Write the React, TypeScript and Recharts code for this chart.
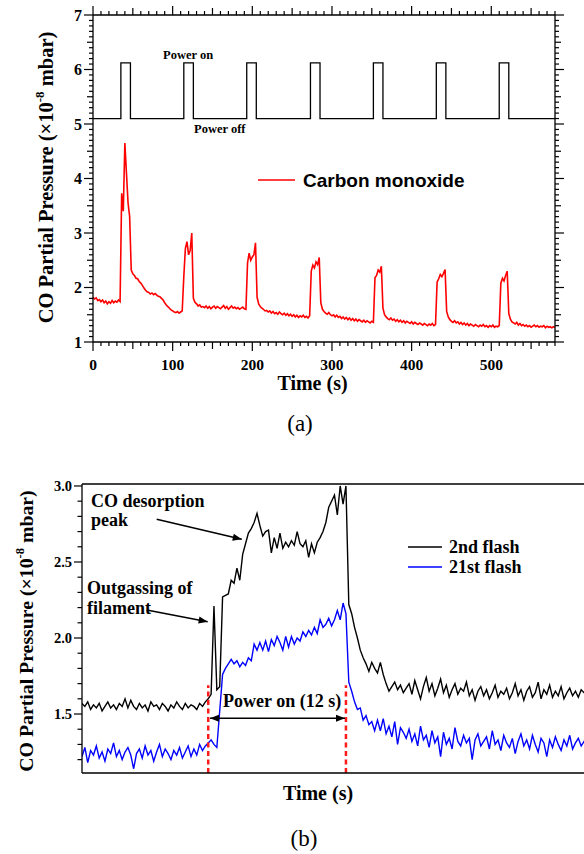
import { LineChart, Line, XAxis, YAxis, ReferenceLine } from 'recharts';

const SERIF = '"Liberation Serif", "Times New Roman", serif';
const SANS = '"Liberation Sans", Arial, sans-serif';

// ---- panel (a): full run, one sample every 2 s ----
const coStep = 2;
const coPressure = [
  1.82, 1.79, 1.81, 1.76, 1.78, 1.74, 1.77, 1.72, 1.75, 1.70,
  1.74, 1.71, 1.76, 1.72, 1.75, 1.73, 1.77, 1.74, 3.73, 3.40,
  4.65, 4.10, 3.55, 3.30, 2.32, 2.25, 2.22, 2.17, 2.16, 2.11,
  2.08, 2.04, 1.99, 1.95, 1.92, 1.91, 1.88, 1.90, 1.87, 1.89,
  1.86, 1.84, 1.83, 1.80, 1.77, 1.72, 1.68, 1.65, 1.62, 1.59,
  1.57, 1.55, 1.54, 1.56, 1.53, 1.55, 1.57, 2.20, 2.72, 2.84,
  2.60, 2.68, 3.00, 1.80, 1.73, 1.70, 1.66, 1.68, 1.64, 1.65,
  1.63, 1.66, 1.62, 1.65, 1.61, 1.64, 1.66, 1.62, 1.65, 1.63,
  1.61, 1.64, 1.67, 1.62, 1.65, 1.60, 1.63, 1.66, 1.62, 1.64,
  1.61, 1.63, 1.60, 1.62, 1.64, 1.61, 1.60, 2.45, 2.63, 2.50,
  2.56, 2.60, 2.82, 1.82, 1.70, 1.65, 1.62, 1.60, 1.57, 1.58,
  1.55, 1.57, 1.53, 1.56, 1.52, 1.54, 1.51, 1.55, 1.52, 1.50,
  1.53, 1.49, 1.52, 1.48, 1.51, 1.47, 1.50, 1.46, 1.49, 1.45,
  1.48, 1.46, 1.49, 1.45, 1.47, 1.44, 1.48, 2.30, 2.41, 2.36,
  2.47, 2.42, 2.55, 1.72, 1.60, 1.56, 1.53, 1.51, 1.54, 1.50,
  1.48, 1.50, 1.46, 1.49, 1.45, 1.47, 1.43, 1.46, 1.42, 1.45,
  1.41, 1.44, 1.40, 1.43, 1.39, 1.42, 1.38, 1.41, 1.39, 1.37,
  1.40, 1.36, 1.39, 1.37, 1.35, 1.38, 1.36, 2.18, 2.22, 2.32,
  2.28, 2.39, 1.62, 1.50, 1.46, 1.43, 1.41, 1.44, 1.40, 1.42,
  1.38, 1.41, 1.37, 1.40, 1.36, 1.39, 1.35, 1.38, 1.36, 1.34,
  1.37, 1.33, 1.36, 1.34, 1.32, 1.35, 1.33, 1.31, 1.34, 1.32,
  1.30, 1.33, 1.31, 1.34, 1.30, 1.32, 2.10, 2.16, 2.24, 2.20,
  2.26, 2.33, 1.56, 1.46, 1.41, 1.38, 1.36, 1.39, 1.35, 1.37,
  1.33, 1.36, 1.32, 1.35, 1.31, 1.34, 1.30, 1.33, 1.31, 1.29,
  1.32, 1.30, 1.28, 1.31, 1.29, 1.32, 1.28, 1.30, 1.27, 1.30,
  1.28, 1.31, 1.27, 1.29, 1.28, 1.30, 2.08, 2.17, 2.12, 2.22,
  2.30, 1.52, 1.42, 1.37, 1.35, 1.33, 1.36, 1.31, 1.34, 1.30,
  1.32, 1.29, 1.31, 1.28, 1.30, 1.27, 1.29, 1.31, 1.28, 1.30,
  1.27, 1.29, 1.28, 1.30, 1.26, 1.29, 1.27, 1.28, 1.26, 1.28,
  1.27,
];

// filament power (arbitrary level on the same axis)
const powerTime = [0, 35, 47, 114, 126, 193, 205, 273, 285, 352, 364, 431, 443, 510, 522, 580];
const powerLevel = [5.1, 6.12, 5.1, 6.12, 5.1, 6.12, 5.1, 6.12, 5.1, 6.12, 5.1, 6.12, 5.1, 6.12, 5.1, 5.1];

const timeTicksA = Array.from({ length: 59 }, (_, i) => i * 10);
const pressureTicksA = Array.from({ length: 61 }, (_, i) => Math.round(10 + i) / 10);

// ---- panel (b): single flashes, one sample every 0.25 s ----
const flashStep = 0.25;
const flash2nd = [
  1.57, 1.55, 1.58, 1.53, 1.56, 1.54, 1.57, 1.52, 1.55, 1.58,
  1.54, 1.56, 1.53, 1.57, 1.55, 1.60, 1.54, 1.59, 1.55, 1.53,
  1.57, 1.54, 1.56, 1.52, 1.58, 1.55, 1.56, 1.53, 1.57, 1.55,
  1.52, 1.56, 1.54, 1.58, 1.55, 1.53, 1.57, 1.54, 1.56, 1.55,
  1.53, 1.57, 1.55, 1.58,
  1.60, 1.63, 2.21, 1.66, 1.68, 2.27, 2.28, 2.29, 2.38, 2.36,
  2.46, 2.38, 2.55, 2.62, 2.69, 2.72, 2.76, 2.82, 2.74, 2.67,
  2.70, 2.71, 2.56, 2.66, 2.59, 2.69, 2.59, 2.63, 2.60, 2.64,
  2.61, 2.70, 2.62, 2.60, 2.64, 2.53, 2.62, 2.56, 2.63, 2.66,
  2.70, 2.76, 2.86, 2.90, 2.94, 2.81, 3.00, 2.88, 3.00, 2.22,
  2.16, 2.07, 2.00, 1.92, 1.87, 1.83, 1.78, 1.84, 1.80, 1.77,
  1.84, 1.76, 1.70, 1.65, 1.68, 1.71, 1.66, 1.69, 1.64, 1.67,
  1.70, 1.63, 1.72, 1.66, 1.60, 1.68, 1.74, 1.65, 1.70, 1.62,
  1.67, 1.73, 1.64, 1.69, 1.61, 1.66, 1.70, 1.63, 1.67, 1.65,
  1.71, 1.62, 1.66, 1.59, 1.65, 1.68, 1.62, 1.66, 1.60, 1.64,
  1.69, 1.61, 1.65, 1.63, 1.67, 1.60, 1.64, 1.70, 1.62, 1.66,
  1.59, 1.65, 1.68, 1.61, 1.64, 1.71, 1.60, 1.66, 1.63, 1.69,
  1.61, 1.65, 1.62, 1.68, 1.60, 1.64, 1.67, 1.62, 1.65, 1.61,
  1.66, 1.64, 1.63, 1.66,
];
const flash21st = [
  1.22, 1.28, 1.18, 1.26, 1.23, 1.29, 1.21, 1.25, 1.19, 1.27,
  1.24, 1.31, 1.22, 1.26, 1.20, 1.25, 1.28, 1.23, 1.14, 1.24,
  1.27, 1.21, 1.29, 1.23, 1.26, 1.19, 1.25, 1.30, 1.22, 1.27,
  1.24, 1.20, 1.26, 1.23, 1.28, 1.21, 1.25, 1.29, 1.22, 1.27,
  1.23, 1.30, 1.26, 1.29,
  1.31, 1.33, 1.30, 1.28, 1.52, 1.76, 1.80, 1.83, 1.86, 1.83,
  1.85, 1.81, 1.84, 1.82, 1.87, 1.85, 1.96, 1.92, 1.97, 1.92,
  1.98, 1.91, 1.99, 1.95, 2.01, 1.97, 1.92, 2.01, 1.94, 2.01,
  1.96, 2.00, 1.98, 2.04, 2.01, 2.05, 2.02, 2.07, 2.03, 2.12,
  2.07, 2.09, 2.13, 2.08, 2.12, 2.18, 2.12, 2.23, 2.16, 1.71,
  1.65, 1.58, 1.53, 1.54, 1.46, 1.49, 1.43, 1.45, 1.39, 1.46,
  1.39, 1.47, 1.37, 1.42, 1.35, 1.45, 1.30, 1.41, 1.38, 1.34,
  1.40, 1.32, 1.37, 1.29, 1.42, 1.33, 1.36, 1.28, 1.39, 1.31,
  1.35, 1.22, 1.38, 1.30, 1.34, 1.27, 1.41, 1.32, 1.29, 1.36,
  1.31, 1.34, 1.20, 1.33, 1.37, 1.29, 1.32, 1.35, 1.27, 1.39,
  1.30, 1.33, 1.26, 1.36, 1.31, 1.28, 1.34, 1.24, 1.32, 1.37,
  1.29, 1.33, 1.27, 1.36, 1.30, 1.25, 1.34, 1.31, 1.22, 1.33,
  1.28, 1.35, 1.30, 1.26, 1.33, 1.29, 1.36, 1.27, 1.31, 1.34,
  1.29, 1.32, 1.27, 1.31,
];
const pressureTicksB = Array.from({ length: 19 }, (_, i) => Math.round(12 + i) / 10);
const powerOn = [11, 23];
const powerMarkTop = 1.69;
const desorptionArrow = [{ x: 6.51, y: 2.781 }, { x: 13.92, y: 2.649 }];
const outgassingArrow = [{ x: 5.64, y: 2.184 }, { x: 10.95, y: 2.107 }];
const powerOnArrow = [{ x: 11.15, y: 1.472 }, { x: 22.92, y: 1.472 }];

const coData = coPressure.map((v, i) => ({ t: i * coStep, co: v }));
const powerData = powerTime.map((t, i) => ({ t, power: powerLevel[i] }));
const flashData = flash2nd.map((v, i) => ({ t: i * flashStep, second: v, twentyFirst: flash21st[i] }));

const tickText = { fontFamily: SERIF, fontWeight: 'bold' as const, fill: '#000' };

const BottomTickA = ({ x, y, payload }: any) => {
  const v = payload.value;
  const len = v % 100 === 0 ? 9 : v % 50 === 0 ? 7 : 4;
  return (
    <g>
      <line x1={x} x2={x} y1={y} y2={y + len} stroke="#000" strokeWidth={1.2} />
      {v % 100 === 0 && (
        <text x={x} y={y + 27.5} textAnchor="middle" fontSize={15.5} {...tickText}>{v}</text>
      )}
    </g>
  );
};

const TopTickA = ({ x, y, payload }: any) => {
  const v = payload.value;
  const len = v % 100 === 0 ? 9 : v % 50 === 0 ? 7 : 4;
  return <line x1={x} x2={x} y1={y} y2={y - len} stroke="#000" strokeWidth={1.2} />;
};

const LeftTickA = ({ x, y, payload }: any) => {
  const k = Math.round(payload.value * 10);
  const len = k % 10 === 0 ? 9 : k % 5 === 0 ? 6 : 4;
  return (
    <g>
      <line x1={x - len} x2={x} y1={y} y2={y} stroke="#000" strokeWidth={1.2} />
      {k % 10 === 0 && (
        <text x={x - 11} y={y + 5.5} textAnchor="end" fontSize={16} {...tickText}>{k / 10}</text>
      )}
    </g>
  );
};

const RightTickA = ({ x, y, payload }: any) => {
  const k = Math.round(payload.value * 10);
  const len = k % 10 === 0 ? 9 : k % 5 === 0 ? 6 : 4;
  return <line x1={x} x2={x + len} y1={y} y2={y} stroke="#000" strokeWidth={1.2} />;
};

const LeftTickB = ({ x, y, payload }: any) => {
  const k = Math.round(payload.value * 10);
  const major = k % 5 === 0;
  return (
    <g>
      <line x1={x - (major ? 8 : 4.5)} x2={x} y1={y} y2={y} stroke="#000" strokeWidth={1.2} />
      {major && (
        <text x={x - 10} y={y + 5} textAnchor="end" fontSize={14.5} {...tickText}>{(k / 10).toFixed(1)}</text>
      )}
    </g>
  );
};

const head = (x: number, y: number, a: number) => {
  const L = 9, W = 3.5;
  const bx = x - L * Math.cos(a), by = y - L * Math.sin(a);
  return `${x},${y} ${bx + W * Math.sin(a)},${by - W * Math.cos(a)} ${bx - W * Math.sin(a)},${by + W * Math.cos(a)}`;
};

const arrowShape = (both: boolean) => (p: any) => {
  const { x1, y1, x2, y2 } = p;
  const a = Math.atan2(y2 - y1, x2 - x1);
  return (
    <g>
      <line x1={x1} y1={y1} x2={x2} y2={y2} stroke="#000" strokeWidth={1.6} />
      <polygon points={head(x2, y2, a)} fill="#000" />
      {both && <polygon points={head(x1, y1, a + Math.PI)} fill="#000" />}
    </g>
  );
};

const axisStroke = { stroke: '#000', strokeWidth: 1.3 };

// axes get a 1px size (a 0-sized axis is not drawn); margins are trimmed by the same amount
function PanelA() {
  return (
    <LineChart width={584} height={400} data={coData} margin={{ top: 14, right: 28, left: 92, bottom: 57 }}>
      <XAxis dataKey="t" type="number" domain={[0, 580]} ticks={timeTicksA} interval={0} height={1}
        tickSize={0} tickMargin={0} tickLine={false} axisLine={axisStroke} tick={BottomTickA} allowDataOverflow />
      <XAxis xAxisId="top" orientation="top" dataKey="t" type="number" domain={[0, 580]} ticks={timeTicksA}
        interval={0} height={1} tickSize={0} tickMargin={0} tickLine={false} axisLine={axisStroke} tick={TopTickA} allowDataOverflow />
      <YAxis type="number" domain={[1, 7]} ticks={pressureTicksA} interval={0} width={1}
        tickSize={0} tickMargin={0} tickLine={false} axisLine={axisStroke} tick={LeftTickA} allowDataOverflow />
      <YAxis yAxisId="right" orientation="right" type="number" domain={[1, 7]} ticks={pressureTicksA} interval={0} width={1}
        tickSize={0} tickMargin={0} tickLine={false} axisLine={axisStroke} tick={RightTickA} allowDataOverflow />
      <Line data={powerData} dataKey="power" type="stepAfter" stroke="#000" strokeWidth={1.3} dot={false} isAnimationActive={false} />
      <Line dataKey="co" type="linear" stroke="#ff0000" strokeWidth={1.6} dot={false} isAnimationActive={false} />
    </LineChart>
  );
}

function PanelB() {
  return (
    <LineChart width={600} height={400} data={flashData} margin={{ top: 43, right: 10.2, left: 81, bottom: 66 }}>
      <XAxis dataKey="t" type="number" domain={[0, 44.25]} height={1} tick={false} tickLine={false}
        axisLine={axisStroke} allowDataOverflow />
      <XAxis xAxisId="top" orientation="top" dataKey="t" type="number" domain={[0, 44.25]} height={1}
        tick={false} tickLine={false} axisLine={axisStroke} allowDataOverflow />
      <YAxis type="number" domain={[1.112, 3.013]} ticks={pressureTicksB} interval={0} width={1}
        tickSize={0} tickMargin={0} tickLine={false} axisLine={axisStroke} tick={LeftTickB} allowDataOverflow />
      <Line dataKey="second" type="linear" stroke="#000" strokeWidth={1.4} dot={false} isAnimationActive={false} />
      <Line dataKey="twentyFirst" type="linear" stroke="#0000ff" strokeWidth={1.4} dot={false} isAnimationActive={false} />
      {powerOn.map((t) => (
        <ReferenceLine key={t} segment={[{ x: t, y: 1.112 }, { x: t, y: powerMarkTop }]} stroke="#ff1a1a"
          strokeWidth={2.5} strokeDasharray="5 3.5" ifOverflow="visible" />
      ))}
      <ReferenceLine segment={desorptionArrow} ifOverflow="visible" shape={arrowShape(false)} />
      <ReferenceLine segment={outgassingArrow} ifOverflow="visible" shape={arrowShape(false)} />
      <ReferenceLine segment={powerOnArrow} ifOverflow="visible" shape={arrowShape(true)} />
    </LineChart>
  );
}

export default function App() {
  const bold = { fontFamily: SERIF, fontWeight: 'bold' as const, fill: '#000' };
  return (
    <div style={{ position: 'fixed', left: 0, top: 0, width: 584, height: 854, overflow: 'hidden', background: '#fff' }}>
      <div style={{ position: 'absolute', left: 0, top: 0 }}>
        <PanelA />
      </div>
      <div style={{ position: 'absolute', left: 0, top: 440 }}>
        <PanelB />
      </div>
      <svg width={584} height={854} style={{ position: 'absolute', left: 0, top: 0, pointerEvents: 'none' }}>
        {/* panel (a) */}
        <text transform="translate(53,177.5) rotate(-90)" textAnchor="middle" fontSize={20.5} {...bold}>
          CO Partial Pressure (×10<tspan dy={-9} fontSize={13}>-8</tspan><tspan dy={9}> mbar)</tspan>
        </text>
        <text x={312.5} y={390} textAnchor="middle" fontSize={20} {...bold}>Time (s)</text>
        <text x={163} y={59} fontSize={12.5} {...bold}>Power on</text>
        <text x={194} y={133} fontSize={12.5} {...bold}>Power off</text>
        <line x1={258} x2={295} y1={180} y2={180} stroke="#ff0000" strokeWidth={1.4} />
        <text x={303} y={186.5} fontSize={19} fontFamily={SANS} fontWeight="bold" fill="#000">Carbon monoxide</text>
        <text x={300} y={431} textAnchor="middle" fontSize={23} fontFamily={SERIF} fill="#000">(a)</text>

        {/* panel (b) */}
        <text transform="translate(33,631) rotate(-90)" textAnchor="middle" fontSize={19.8} {...bold}>
          CO Partial Pressure (×10<tspan dy={-9} fontSize={12.5}>-8</tspan><tspan dy={9}> mbar)</tspan>
        </text>
        <text x={318} y={800} textAnchor="middle" fontSize={20} {...bold}>Time (s)</text>
        <text x={91} y={507} fontSize={18} {...bold}>CO desorption</text>
        <text x={91} y={526} fontSize={18} {...bold}>peak</text>
        <text x={87} y={593.5} fontSize={18} {...bold}>Outgassing of</text>
        <text x={87} y={614} fontSize={18} {...bold}>filament</text>
        <text x={223} y={707} fontSize={18} {...bold}>Power on (12 s)</text>
        <line x1={408} x2={442} y1={547} y2={547} stroke="#000" strokeWidth={1.4} />
        <text x={449} y={553} fontSize={18} {...bold}>2nd flash</text>
        <line x1={408} x2={442} y1={567} y2={567} stroke="#0000ff" strokeWidth={1.4} />
        <text x={449} y={573} fontSize={18} {...bold}>21st flash</text>
        <text x={304} y={846} textAnchor="middle" fontSize={23} fontFamily={SERIF} fill="#000">(b)</text>
      </svg>
    </div>
  );
}
